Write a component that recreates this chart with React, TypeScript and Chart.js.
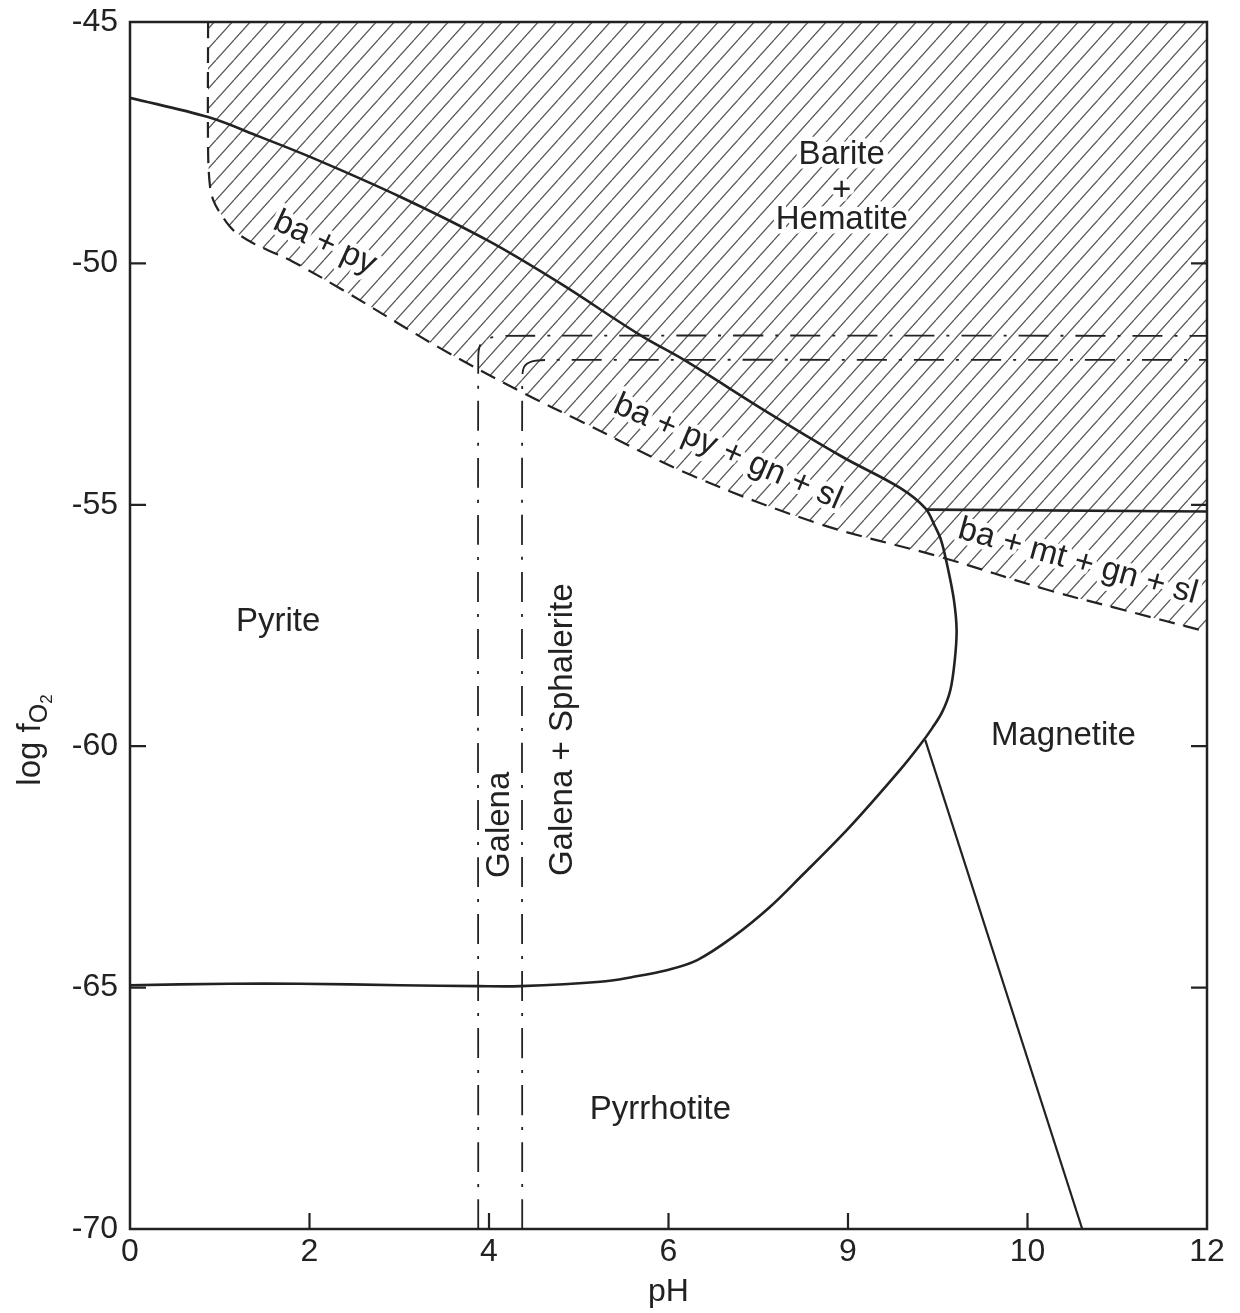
import { useEffect, useRef } from 'react';
import { Chart, registerables } from 'chart.js';

Chart.register(...registerables);

// ---- axes ----
const xTickValues = [0, 2, 4, 6, 8, 10, 12];
const xTickLabels = ['0', '2', '4', '6', '9', '10', '12'];
const yTickValues = [-45, -50, -55, -60, -65, -70];

// ---- boundaries (pH, log fO2) ----
// pyrite / hematite boundary, bending into pyrite / magnetite, then pyrite / pyrrhotite
const pyriteBoundaryX = [0, 0.87, 1.45, 2.04, 3.01, 4.0, 4.79, 5.68, 6.21, 7.1, 7.94, 8.58, 8.86, 8.97, 9.04, 9.11, 9.18, 9.21, 9.19, 9.14, 9.05, 8.94, 8.8, 8.58, 8.02, 7.47, 7.13, 6.72, 6.32, 5.98, 5.6, 5.24, 4.35, 3.88, 3.01, 1.89, 1.11, 0];
const pyriteBoundaryY = [-46.57, -46.97, -47.38, -47.82, -48.62, -49.54, -50.41, -51.48, -52.04, -53.08, -54.01, -54.65, -55.07, -55.45, -55.75, -56.29, -56.97, -57.59, -58.21, -58.84, -59.29, -59.62, -59.98, -60.49, -61.67, -62.71, -63.33, -63.95, -64.43, -64.64, -64.78, -64.88, -64.97, -64.97, -64.95, -64.92, -64.92, -64.95];

// hematite / magnetite boundary
const hematiteMagnetiteX = [8.88, 12];
const hematiteMagnetiteY = [-55.1, -55.14];

// magnetite / pyrrhotite boundary
const magnetitePyrrhotiteX = [8.86, 10.61];
const magnetitePyrrhotiteY = [-59.87, -70];

// barite saturation boundary (hatched above)
const bariteX = [0.87, 0.87, 0.89, 0.93, 1.02, 1.15, 1.37, 1.53, 1.82, 2.37, 3.45, 4.4, 5.0, 6.27, 7.69, 9.03, 10.22, 10.95, 12];
const bariteY = [-45, -47.65, -48.38, -48.7, -49.0, -49.31, -49.58, -49.72, -49.97, -50.55, -51.75, -52.7, -53.25, -54.4, -55.4, -56.08, -56.76, -57.12, -57.63];

// galena boundary (dash-dot)
const galenaX = [3.88, 3.88, 3.9, 4.0, 4.2, 12];
const galenaY = [-70, -52.0, -51.7, -51.55, -51.5, -51.5];

// galena + sphalerite boundary (dash-dot)
const sphaleriteX = [4.37, 4.37, 4.39, 4.48, 4.65, 12];
const sphaleriteY = [-70, -52.45, -52.15, -52.03, -52.0, -52.0];

// ---- labels ----
const labelTexts = ['Pyrite', 'Barite', '+', 'Hematite', 'Magnetite', 'Pyrrhotite', 'Galena', 'Galena + Sphalerite', 'ba + py', 'ba + py + gn + sl', 'ba + mt + gn + sl'];
const labelX = [1.65, 7.93, 7.93, 7.93, 10.4, 5.91, 4.12, 4.82, 2.17, 6.66, 10.56];
const labelY = [-57.43, -47.75, -48.5, -49.1, -59.79, -67.53, -61.63, -59.66, -49.58, -53.91, -56.18];
const labelAngle = [0, 0, 0, 0, 0, 0, -90, -90, 25, 23.5, 15.5];
const labelHalo = [false, true, true, true, false, false, false, false, true, true, true];

const FONT = "'Liberation Sans', Arial, Helvetica, sans-serif";
const INK = '#222222';

const pts = (xs: number[], ys: number[]) => xs.map((x, i) => ({ x, y: ys[i] }));

function makeHatch(): CanvasPattern | string {
  const w = 18, h = 20;
  const c = document.createElement('canvas');
  c.width = w; c.height = h;
  const g = c.getContext('2d');
  if (!g) return 'rgba(0,0,0,0.2)';
  g.strokeStyle = '#5a5a5a';
  g.lineWidth = 1.3;
  g.beginPath();
  for (const dx of [-w, 0, w]) {
    g.moveTo(dx, h);
    g.lineTo(dx + w, 0);
  }
  g.stroke();
  return g.createPattern(c, 'repeat') || 'rgba(0,0,0,0.2)';
}

function drawLabel(ctx: CanvasRenderingContext2D, chart: any, i: number, halo: boolean) {
  const { x, y } = chart.scales;
  const px = x.getPixelForValue(labelX[i]);
  const py = y.getPixelForValue(labelY[i]);
  ctx.save();
  ctx.translate(px, py);
  ctx.rotate((labelAngle[i] * Math.PI) / 180);
  ctx.font = `33px ${FONT}`;
  ctx.textAlign = 'center';
  ctx.textBaseline = 'middle';
  if (halo) {
    ctx.strokeStyle = '#ffffff';
    ctx.lineWidth = 9;
    ctx.lineJoin = 'round';
    ctx.strokeText(labelTexts[i], 0, 0);
  } else {
    ctx.fillStyle = INK;
    ctx.fillText(labelTexts[i], 0, 0);
  }
  ctx.restore();
}

const decorPlugin = {
  id: 'decor',
  beforeDatasetsDraw(chart: any) {
    const ctx = chart.ctx as CanvasRenderingContext2D;
    labelTexts.forEach((_, i) => {
      if (labelHalo[i]) drawLabel(ctx, chart, i, true);
    });
  },
  afterDatasetsDraw(chart: any) {
    const ctx = chart.ctx as CanvasRenderingContext2D;
    const a = chart.chartArea;
    const { x, y } = chart.scales;
    labelTexts.forEach((_, i) => drawLabel(ctx, chart, i, false));

    ctx.save();
    ctx.strokeStyle = INK;
    ctx.lineWidth = 2.5;
    ctx.strokeRect(a.left, a.top, a.right - a.left, a.bottom - a.top);
    ctx.lineWidth = 2.2;
    ctx.beginPath();
    const tl = 16;
    xTickValues.forEach((v) => {
      if (v === 0 || v === 12) return;
      const px = x.getPixelForValue(v);
      ctx.moveTo(px, a.bottom);
      ctx.lineTo(px, a.bottom - tl);
    });
    yTickValues.forEach((v) => {
      if (v === -45 || v === -70) return;
      const py = y.getPixelForValue(v);
      ctx.moveTo(a.left, py);
      ctx.lineTo(a.left + tl, py);
      ctx.moveTo(a.right, py);
      ctx.lineTo(a.right - tl, py);
    });
    ctx.stroke();

    // x title
    ctx.fillStyle = INK;
    ctx.font = `32px ${FONT}`;
    ctx.textAlign = 'center';
    ctx.textBaseline = 'alphabetic';
    ctx.fillText('pH', (a.left + a.right) / 2, 1301);

    // y title: log f_{O_2}
    ctx.translate(40, 740);
    ctx.rotate(-Math.PI / 2);
    ctx.textAlign = 'left';
    ctx.font = `33px ${FONT}`;
    const w1 = ctx.measureText('log f').width;
    ctx.font = `25px ${FONT}`;
    const w2 = ctx.measureText('O').width;
    ctx.font = `17px ${FONT}`;
    const w3 = ctx.measureText('2').width;
    let sx = -(w1 + w2 + w3) / 2;
    ctx.font = `33px ${FONT}`;
    ctx.fillText('log f', sx, 0);
    sx += w1;
    ctx.font = `25px ${FONT}`;
    ctx.fillText('O', sx, 7);
    sx += w2;
    ctx.font = `17px ${FONT}`;
    ctx.fillText('2', sx, 12);
    ctx.restore();
  },
};

export default function App() {
  const ref = useRef<HTMLCanvasElement | null>(null);

  useEffect(() => {
    const canvas = ref.current;
    if (!canvas) return;
    const hatch = makeHatch();
    const lineBase = { pointRadius: 0, pointHoverRadius: 0, fill: false, borderColor: INK };
    const chart = new Chart(canvas, {
      type: 'line',
      data: {
        datasets: [
          {
            ...lineBase,
            data: pts(bariteX, bariteY),
            borderWidth: 2.2,
            borderDash: [16, 9],
            tension: 0.35,
            fill: 'end',
            backgroundColor: hatch as any,
          },
          {
            ...lineBase,
            data: pts(galenaX, galenaY),
            borderWidth: 1.8,
            borderDash: [30, 12, 3, 12],
            tension: 0.3,
          },
          {
            ...lineBase,
            data: pts(sphaleriteX, sphaleriteY),
            borderWidth: 1.8,
            borderDash: [30, 12, 3, 12],
            tension: 0.3,
          },
          {
            ...lineBase,
            data: pts(pyriteBoundaryX, pyriteBoundaryY),
            borderWidth: 2.6,
            tension: 0.35,
          },
          {
            ...lineBase,
            data: pts(hematiteMagnetiteX, hematiteMagnetiteY),
            borderWidth: 2.6,
            tension: 0,
          },
          {
            ...lineBase,
            data: pts(magnetitePyrrhotiteX, magnetitePyrrhotiteY),
            borderWidth: 2.2,
            tension: 0,
          },
        ] as any,
      },
      options: {
        animation: false,
        responsive: false,
        maintainAspectRatio: false,
        layout: { padding: { left: 0, top: 22, right: 33, bottom: 0 } },
        plugins: {
          legend: { display: false },
          tooltip: { enabled: false },
          filler: { drawTime: 'beforeDatasetsDraw' } as any,
        },
        scales: {
          x: {
            type: 'linear',
            min: 0,
            max: 12,
            afterBuildTicks: (s: any) => {
              s.ticks = xTickValues.map((v) => ({ value: v }));
            },
            afterFit: (s: any) => {
              s.height = 84;
            },
            ticks: {
              autoSkip: false,
              maxRotation: 0,
              padding: 4,
              color: INK,
              font: { family: FONT, size: 32 },
              callback: (v: any) => xTickLabels[xTickValues.indexOf(Number(v))],
            },
            grid: { display: false, drawTicks: false },
            border: { display: false },
          },
          y: {
            type: 'linear',
            min: -70,
            max: -45,
            afterBuildTicks: (s: any) => {
              s.ticks = yTickValues.map((v) => ({ value: v }));
            },
            afterFit: (s: any) => {
              s.width = 130;
            },
            ticks: {
              autoSkip: false,
              padding: 12,
              color: INK,
              font: { family: FONT, size: 32, lineHeight: 0.6 },
              callback: (v: any) => String(v),
            },
            grid: { display: false, drawTicks: false },
            border: { display: false },
          },
        },
      },
      plugins: [decorPlugin as any],
    });
    return () => chart.destroy();
  }, []);

  return (
    <div style={{ position: 'fixed', left: 0, top: 0, width: 1240, height: 1313, background: '#fff' }}>
      <canvas ref={ref} width={1240} height={1313} style={{ display: 'block' }} />
    </div>
  );
}
